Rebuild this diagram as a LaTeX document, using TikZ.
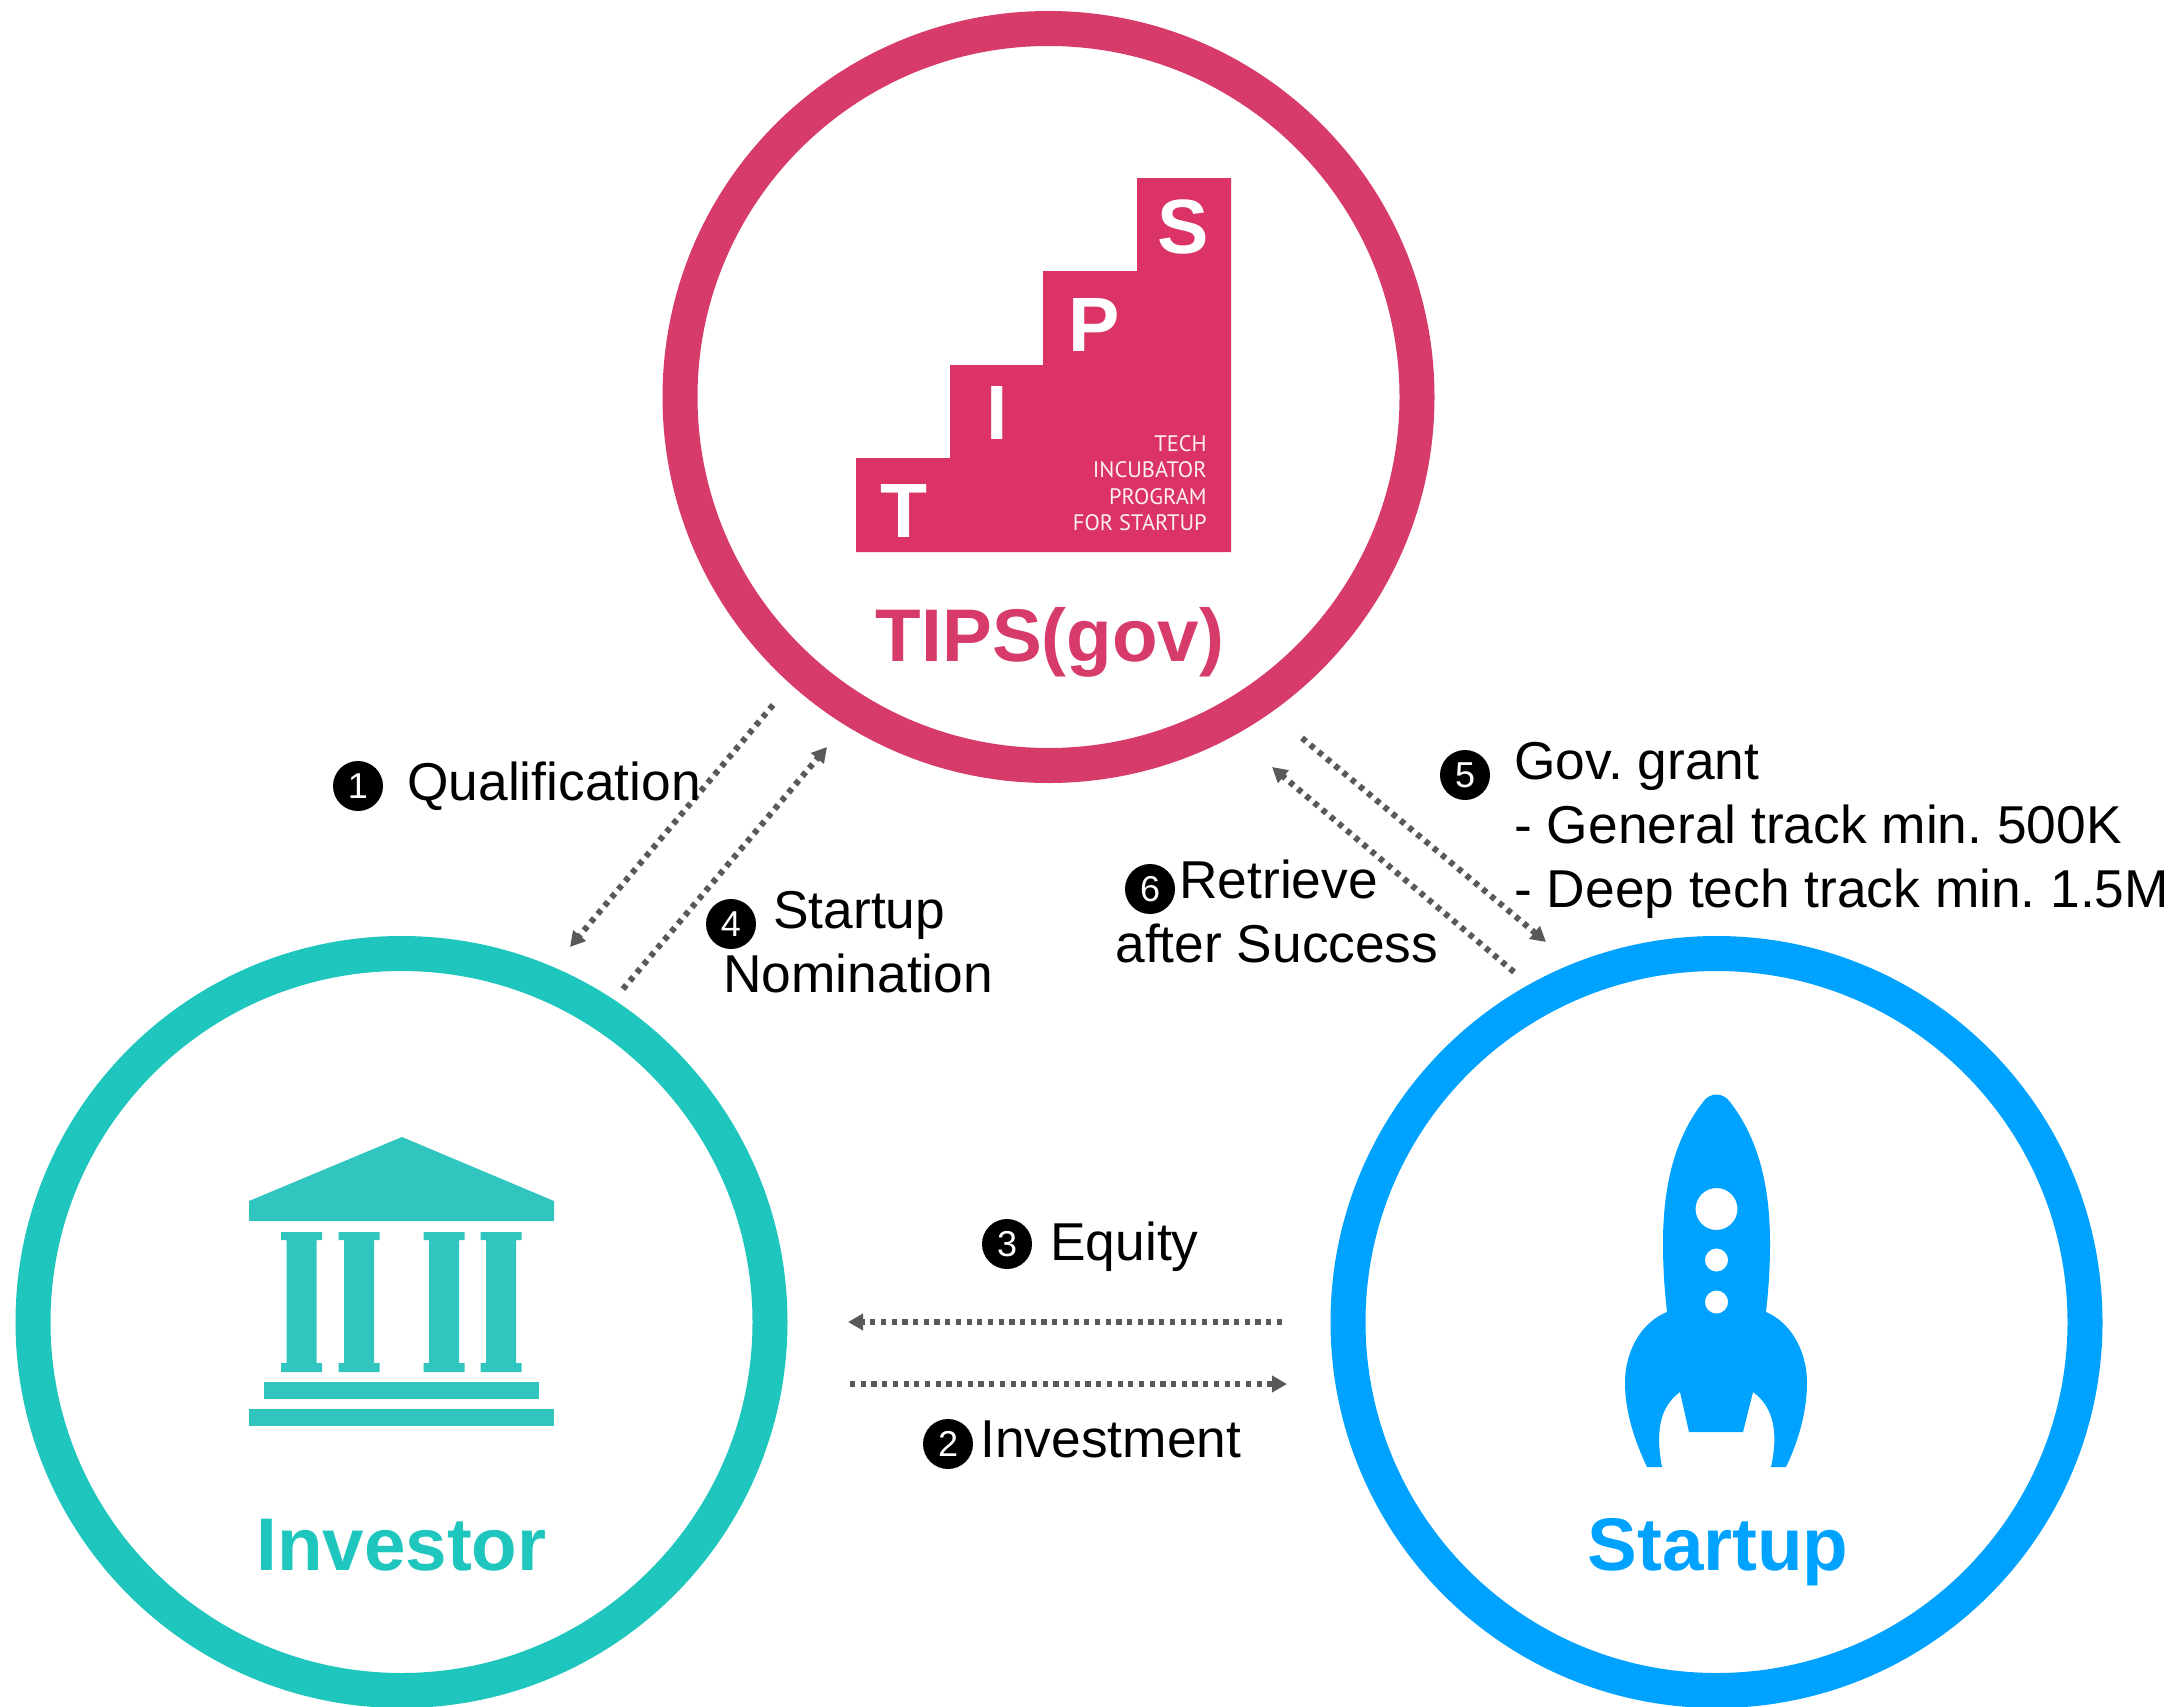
\documentclass[tikz,border=0pt]{standalone}
\usepackage{fontspec}
\setmainfont{Liberation Sans}
\newfontfamily\logofont{PT Sans}
\usetikzlibrary{arrows.meta}
\frenchspacing
\definecolor{tipsring}{HTML}{D63B6A}
\definecolor{tipslogo}{HTML}{DB3366}
\definecolor{invring}{HTML}{1FC6BD}
\definecolor{invicon}{HTML}{31C5BF}
\definecolor{suring}{HTML}{00A2FF}
\definecolor{flowgrey}{HTML}{595959}
\tikzset{
  ring/.style={circle,draw=#1,line width=17.5pt,minimum size=368.5pt,inner sep=0pt,outer sep=0pt,fill=white},
  title/.style={text=#1,font=\fontsize{37.3}{40}\selectfont\bfseries,anchor=base,inner sep=0pt},
  lab/.style={font=\fontsize{26.65}{30}\selectfont\frenchspacing,anchor=base west,inner sep=0pt,text=black},
  num/.style={circle,fill=black,text=white,minimum size=25pt,inner sep=0pt,font=\fontsize{18}{18}\selectfont},
  flow/.style={draw=flowgrey,line width=3pt,dash pattern=on 2.6pt off 2.75pt,-{Triangle[length=7.5pt,width=8pt,fill=flowgrey]}},
  logoL/.style={text=white,font=\fontsize{38.5}{40}\selectfont\bfseries,inner sep=0pt,anchor=center},
  logoS/.style={text=white!92!tipslogo,font=\logofont\fontsize{11.2}{12}\selectfont,inner sep=0pt,anchor=base east},
}
\begin{document}
\begin{tikzpicture}[x=0.5pt,y=-0.5pt]
\useasboundingbox (0,0) rectangle (2184,1707);
% rings
\node[ring=tipsring] (tips) at (1048.5,397) {};
\node[ring=invring] (inv) at (401.5,1322) {};
\node[ring=suring] (su) at (1716.5,1322) {};
% TIPS logo
\fill[tipslogo] (856,552) -- (856,458) -- (950,458) -- (950,365) -- (1043,365) -- (1043,271) -- (1137,271) -- (1137,178) -- (1231,178) -- (1231,552) -- cycle;
\node[logoL] (lt) at (904,511) {T};
\node[logoL] (li) at (997,413) {I};
\node[logoL] (lp) at (1094,325) {P};
\node[logoL] (ls) at (1183,227) {S};
\node[logoS] (s1) at (1207,451) {TECH};
\node[logoS] (s2) at (1207,477) {INCUBATOR};
\node[logoS] (s3) at (1207,504) {PROGRAM};
\node[logoS] (s4) at (1207,530) {FOR STARTUP};
% Titles
\node[title=tipsring] (t1) at (1050,661) {TIPS(gov)};
\node[title=invring] (t2) at (401.5,1570) {Investor};
\node[title=suring] (t3) at (1718,1570) {Startup};
% Temple
\fill[invicon] (402,1137) -- (554,1201) -- (554,1221) -- (249,1221) -- (249,1201) -- cycle;
\foreach \cx in {301.5,359,444,501}{
  \fill[invicon] (\cx-20.5,1232) -- (\cx+20.5,1232) -- (\cx+20.5,1240) -- (\cx+15,1240) -- (\cx+15,1363) -- (\cx+20.5,1363) -- (\cx+20.5,1372) -- (\cx-20.5,1372) -- (\cx-20.5,1363) -- (\cx-15,1363) -- (\cx-15,1240) -- (\cx-20.5,1240) -- cycle;
}
\fill[invicon] (264,1382) rectangle (539,1399);
\fill[invicon] (249,1409) rectangle (554,1426);
% Rocket
\fill[suring,even odd rule]
  (1667,1312) .. controls (1664,1285) and (1663,1265) .. (1663,1243)
  .. controls (1663,1185) and (1675,1138) .. (1703,1102)
  .. controls (1710,1092) and (1723,1092) .. (1730,1102)
  .. controls (1758,1138) and (1770,1185) .. (1770,1243)
  .. controls (1770,1265) and (1769,1285) .. (1766,1312)
  .. controls (1790,1322) and (1807,1350) .. (1807,1383)
  .. controls (1807,1412) and (1798,1442) .. (1786,1467)
  -- (1771,1467)
  .. controls (1778,1435) and (1775,1408) .. (1753,1392)
  -- (1743,1432) -- (1689,1432) -- (1680,1392)
  .. controls (1658,1408) and (1656,1435) .. (1662,1467)
  -- (1647,1467)
  .. controls (1635,1442) and (1625,1412) .. (1625,1383)
  .. controls (1625,1350) and (1642,1322) .. (1667,1312) -- cycle
  (1716.5,1209) circle[radius=10.5pt]
  (1716.5,1260) circle[radius=5.8pt]
  (1716.5,1302) circle[radius=5.8pt];
% connector ends
\coordinate (a1) at (773,705); \coordinate (a2) at (570,947);
\coordinate (b1) at (623,989); \coordinate (b2) at (827,747);
\coordinate (c1) at (1302,738); \coordinate (c2) at (1546,942);
\coordinate (d1) at (1514,972); \coordinate (d2) at (1272,767);
\coordinate (e1) at (1282,1322); \coordinate (e2) at (848,1322);
\coordinate (f1) at (850,1384); \coordinate (f2) at (1287,1384);
\draw[flow] (a1) -- (a2);
\draw[flow] (b1) -- (b2);
\draw[flow] (c1) -- (c2);
\draw[flow] (d1) -- (d2);
\draw[flow] (e1) -- (e2);
\draw[flow] (f1) -- (f2);
% labels
\node[num] (n1) at (358,786) {1};
\node[lab] (l1) at (407,800) {Qualification};
\node[num] (n4) at (731,924) {4};
\node[lab] (l4a) at (773,928) {Startup};
\node[lab] (l4b) at (723,992) {Nomination};
\node[num] (n5) at (1465,775) {5};
\node[lab] (l5a) at (1514,779) {Gov. grant};
\node[lab] (l5b) at (1514,843) {- General track min. 500K};
\node[lab] (l5c) at (1514,907) {- Deep tech track min. 1.5M};
\node[num] (n6) at (1150,889) {6};
\node[lab] (l6a) at (1179,898) {Retrieve};
\node[lab] (l6b) at (1115,962) {after Success};
\node[num] (n3) at (1007,1244) {3};
\node[lab] (l3) at (1050,1260) {Equity};
\node[num] (n2) at (948,1444) {2};
\node[lab] (l2) at (980,1457) {Investment};
\end{tikzpicture}
\end{document}
